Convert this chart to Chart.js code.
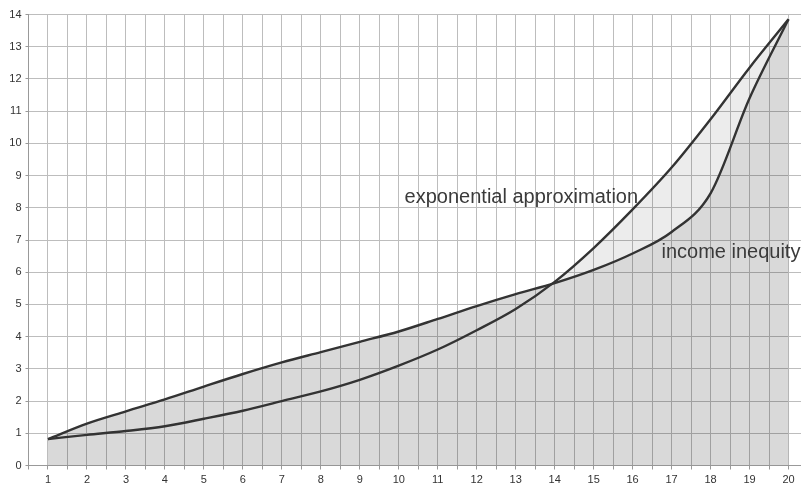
<!DOCTYPE html>
<html>
<head>
<meta charset="utf-8">
<script src="https://cdn.jsdelivr.net/npm/chart.js@4/dist/chart.umd.min.js"></script>
<style>
  html, body { margin: 0; padding: 0; background: #fff; overflow: hidden; }
  #wrap { width: 801px; height: 490px; overflow: hidden; }
</style>
</head>
<body>
<div id="wrap"><canvas id="chart" width="812" height="490"></canvas></div>
<script>
const steps = [1, 2, 3, 4, 5, 6, 7, 8, 9, 10, 11, 12, 13, 14, 15, 16, 17, 18, 19, 20];
const incomeInequity = [0.82, 1.3, 1.68, 2.05, 2.45, 2.84, 3.2, 3.52, 3.84, 4.16, 4.55, 4.95, 5.32, 5.66, 6.07, 6.58, 7.25, 8.45, 11.4, 13.85];
const exponentialApprox = [0.82, 0.95, 1.07, 1.22, 1.45, 1.7, 2.0, 2.3, 2.66, 3.1, 3.6, 4.2, 4.86, 5.7, 6.75, 7.95, 9.25, 10.75, 12.35, 13.85];
const yTicks = [0, 14];

const lineColor = "#333333";
const gridColor = "#bdbdbd";

// in-chart labels, anchored in data units
const curveLabels = [
  { text: "exponential approximation", x: 10.15, y: 8.14 },
  { text: "income inequity", x: 16.74, y: 6.43 },
];

const curveLabelPlugin = {
  id: "curveLabels",
  afterDatasetsDraw(chart) {
    const { ctx, scales } = chart;
    ctx.save();
    ctx.font = '20px "Liberation Sans", Arial, sans-serif';
    ctx.fillStyle = "#3a3a3a";
    ctx.textAlign = "left";
    ctx.textBaseline = "alphabetic";
    curveLabels.forEach((label) => {
      ctx.fillText(label.text, scales.x.getPixelForValue(label.x), scales.y.getPixelForValue(label.y));
    });
    ctx.restore();
  },
};

const toPoints = (values) => values.map((v, i) => ({ x: steps[i], y: v }));

new Chart(document.getElementById("chart"), {
  type: "line",
  data: {
    datasets: [
      {
        label: "income inequity",
        data: toPoints(incomeInequity),
        borderColor: lineColor,
        borderWidth: 2.4,
        backgroundColor: "rgba(0,0,0,0.15)",
        fill: "origin",
        cubicInterpolationMode: "monotone",
        pointRadius: 0,
      },
      {
        label: "exponential approximation",
        data: toPoints(exponentialApprox),
        borderColor: lineColor,
        borderWidth: 2.4,
        fill: { target: 0, above: "rgba(0,0,0,0.075)", below: "rgba(0,0,0,0)" },
        cubicInterpolationMode: "monotone",
        pointRadius: 0,
      },
    ],
  },
  options: {
    responsive: false,
    animation: false,
    layout: { padding: { top: 14.5, right: 3.5, left: 0, bottom: 0 } },
    plugins: {
      legend: { display: false },
      tooltip: { enabled: false },
      filler: { drawTime: "beforeDatasetsDraw" },
    },
    scales: {
      x: {
        type: "linear",
        min: 0.5,
        max: 20.5,
        afterFit: (scale) => { scale.height = 24.5; },
        grid: { color: gridColor, tickLength: 4, tickColor: "#999" },
        border: { color: "#999" },
        ticks: {
          stepSize: 0.5,
          autoSkip: false,
          maxRotation: 0,
          padding: 4,
          color: "#333",
          font: { family: '"Liberation Sans", Arial, sans-serif', size: 11 },
          callback: (v) => (Math.abs(v - Math.round(v)) < 1e-6 && v >= 1 ? String(Math.round(v)) : ""),
        },
      },
      y: {
        min: yTicks[0],
        max: yTicks[1],
        afterFit: (scale) => { scale.width = 28.5; },
        grid: { color: gridColor, tickLength: 3, tickColor: "#999" },
        border: { color: "#999" },
        ticks: {
          stepSize: 1,
          padding: 4,
          color: "#333",
          font: { family: '"Liberation Sans", Arial, sans-serif', size: 11 },
        },
      },
    },
  },
  plugins: [curveLabelPlugin],
});
</script>
</body>
</html>
